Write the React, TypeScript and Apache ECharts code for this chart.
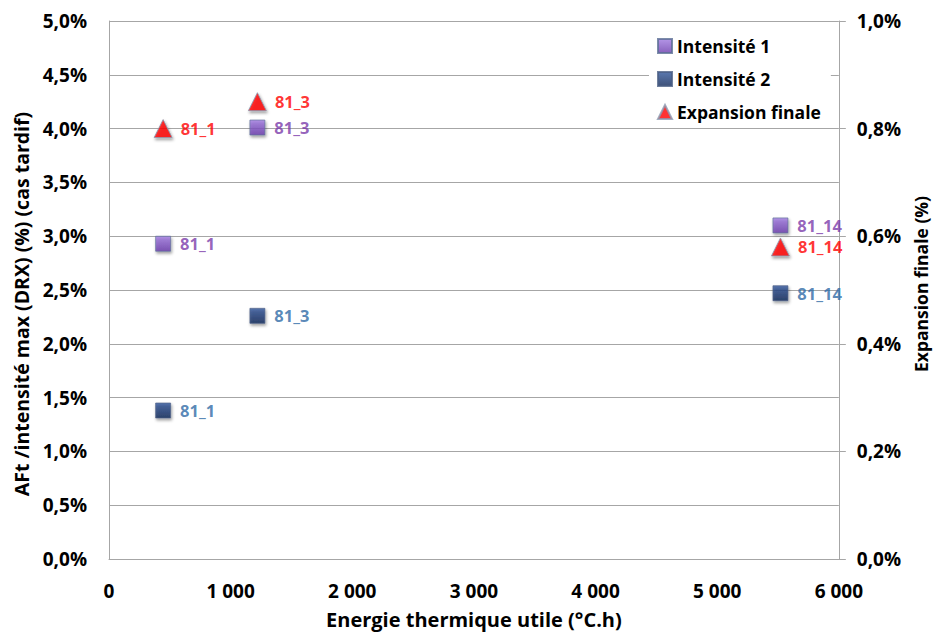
import React, { useEffect, useRef } from "react";
import * as echarts from "echarts";

const names = ["81_1", "81_3", "81_14"];
const energy = [445, 1220, 5520];
const intensite1 = [2.93, 4.01, 3.1];
const intensite2 = [1.38, 2.26, 2.47];
const expansion = [0.8, 0.85, 0.58];
const legendNames = ["Intensité 1", "Intensité 2", "Expansion finale"];

const FONT = "'Open Sans', Lato, sans-serif";

const pct = (v: number) => v.toFixed(1).replace(".", ",") + "%";
const thousands = (v: number) =>
  v === 0 ? "0" : String(v).replace(/\B(?=(\d{3})+(?!\d))/g, " ");

export default function App() {
  const ref = useRef<HTMLDivElement>(null);
  useEffect(() => {
    if (!ref.current) return;
    const chart = echarts.init(ref.current, null, { renderer: "svg" });
    const mk = (vals: number[]) => names.map((n, i) => ({ name: n, value: [energy[i], vals[i]] }));
    const labelStyle = (color: string, dist: number) => ({
      show: true,
      position: "right",
      distance: dist,
      formatter: (p: any) => p.name,
      color,
      fontFamily: FONT,
      fontWeight: "bold",
      fontSize: 16.5,
    });
    const shadow = {
      shadowBlur: 3,
      shadowColor: "rgba(0,0,0,0.45)",
      shadowOffsetX: 1,
      shadowOffsetY: 2,
    };
    const gridColor = "#a6a6a6";
    const axisLabel = { color: "#000", fontFamily: FONT, fontWeight: "bold", fontSize: 19 };
    const nameStyle = { color: "#000", fontFamily: FONT, fontWeight: "bold", fontSize: 20 };
    chart.setOption({
      animation: false,
      backgroundColor: "#fff",
      grid: { left: 109, right: 94, top: 21, bottom: 73, containLabel: false },
      legend: {
        orient: "vertical",
        left: 649,
        top: 30,
        backgroundColor: "#fff",
        padding: [6, 10, 6, 8],
        itemWidth: 14,
        itemHeight: 14,
        itemGap: 13,
        data: legendNames,
        textStyle: { ...nameStyle, fontSize: 17.5, lineHeight: 20 },
      },
      xAxis: {
        type: "value",
        min: 0,
        max: 6000,
        interval: 1000,
        name: "Energie thermique utile (°C.h)",
        nameLocation: "middle",
        nameGap: 50,
        nameTextStyle: nameStyle,
        axisLine: { show: true, lineStyle: { color: gridColor } },
        axisTick: { show: false },
        splitLine: { show: false },
        axisLabel: { ...axisLabel, margin: 22, formatter: thousands },
      },
      yAxis: [
        {
          type: "value",
          min: 0,
          max: 5,
          interval: 0.5,
          name: "AFt /intensité max (DRX) (%) (cas tardif)",
          nameLocation: "middle",
          nameGap: 77,
          nameTextStyle: { ...nameStyle, fontSize: 19.5, padding: [0, 28, 0, 0] },
          axisLine: { show: true, lineStyle: { color: gridColor } },
          axisTick: { show: false },
          splitLine: { show: true, lineStyle: { color: gridColor } },
          axisLabel: { ...axisLabel, margin: 22, formatter: pct },
        },
        {
          type: "value",
          min: 0,
          max: 1,
          interval: 0.2,
          position: "right",
          name: "Expansion finale (%)",
          nameLocation: "middle",
          nameGap: 72,
          nameRotate: 90,
          nameTextStyle: { ...nameStyle, fontSize: 17.5, padding: [0, 0, 0, 12] },
          axisLine: { show: true, lineStyle: { color: gridColor } },
          axisTick: { show: true, length: 7, lineStyle: { color: gridColor } },
          splitLine: { show: false },
          axisLabel: { ...axisLabel, margin: 18, formatter: pct },
        },
      ],
      series: [
        {
          name: legendNames[0],
          type: "scatter",
          yAxisIndex: 0,
          symbol: "rect",
          symbolSize: 15,
          data: mk(intensite1),
          itemStyle: {
            color: new echarts.graphic.LinearGradient(0, 0, 0, 1, [
              { offset: 0, color: "#a07ae0" },
              { offset: 1, color: "#6a3aac" },
            ]),
            borderColor: "#5b6f95",
            borderWidth: 0.8,
            ...shadow,
          },
          label: labelStyle("#7a3aaa", 9),
          z: 3,
        },
        {
          name: legendNames[1],
          type: "scatter",
          yAxisIndex: 0,
          symbol: "rect",
          symbolSize: 15,
          data: mk(intensite2),
          itemStyle: {
            color: new echarts.graphic.LinearGradient(0, 0, 0, 1, [
              { offset: 0, color: "#30559a" },
              { offset: 1, color: "#0f2758" },
            ]),
            borderColor: "#4b5f85",
            borderWidth: 0.8,
            ...shadow,
          },
          label: labelStyle("#2f6aa6", 9),
          z: 3,
        },
        {
          name: legendNames[2],
          type: "scatter",
          yAxisIndex: 1,
          symbol: "triangle",
          symbolSize: 18,
          data: mk(expansion),
          itemStyle: {
            color: "#ff0000",
            borderColor: "#8a9ab2",
            borderWidth: 1,
            ...shadow,
          },
          label: labelStyle("#ff0000", 8),
          z: 4,
        },
      ],
    });
    return () => chart.dispose();
  }, []);
  return <div ref={ref} style={{ width: 938, height: 634, position: "absolute", left: 0, top: 0 }} />;
}
